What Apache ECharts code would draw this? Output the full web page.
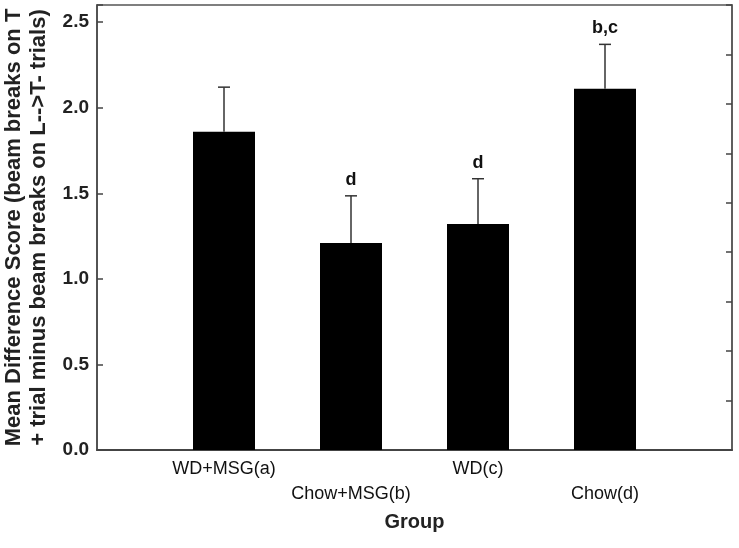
<!DOCTYPE html>
<html>
<head>
<meta charset="utf-8">
<script src="https://cdn.jsdelivr.net/npm/echarts@6/dist/echarts.min.js"></script>
<style>html,body{margin:0;padding:0;background:#fff;}#main{width:739px;height:548px;}</style>
</head>
<body>
<div id="main"></div>
<script>
var categories = ['WD+MSG(a)', 'Chow+MSG(b)', 'WD(c)', 'Chow(d)'];
var means = [1.86, 1.21, 1.32, 2.11];
var errors = [0.26, 0.275, 0.265, 0.26];
var letters = ['', 'd', 'd', 'b,c'];
var yTicks = [0, 0.5, 1.0, 1.5, 2.0, 2.5];

var FONT = '"Liberation Sans", Arial, sans-serif';
var chart = echarts.init(document.getElementById('main'));

var barData = means.map(function (m, i) { return [i + 1, m]; });
var errData = means.map(function (m, i) { return [i + 1, m, m + errors[i], i]; });

chart.setOption({
  animation: false,
  grid: { left: 97, right: 7, top: 5, bottom: 98, containLabel: false, outerBoundsMode: 'none',
          show: true, borderColor: '#555', borderWidth: 1.5, backgroundColor: 'transparent' },
  xAxis: {
    type: 'value', min: 0, max: 5, interval: 1,
    name: 'Group', nameLocation: 'middle', nameGap: 62,
    nameTextStyle: { fontFamily: FONT, fontSize: 20, fontWeight: 'bold', color: '#222' },
    axisLine: { show: true, lineStyle: { color: '#444', width: 2 } },
    axisTick: { show: false },
    splitLine: { show: false },
    axisLabel: {
      margin: 7, fontFamily: FONT, fontSize: 18, color: '#111', lineHeight: 25,
      formatter: function (v) {
        var i = Math.round(v) - 1;
        if (i < 0 || i >= categories.length || Math.abs(v - Math.round(v)) > 1e-6) return '';
        return i % 2 === 0 ? categories[i] : ' \n' + categories[i];
      }
    }
  },
  yAxis: [{
    type: 'value', min: 0, max: 2.6, interval: 0.5,
    name: 'Mean Difference Score (beam breaks on T\n+ trial minus beam breaks on L-->T- trials)',
    nameLocation: 'middle', nameGap: 46,
    nameTextStyle: { fontFamily: FONT, fontSize: 22, fontWeight: 'bold', color: '#222', lineHeight: 25 },
    axisLine: { show: true, lineStyle: { color: '#444', width: 1.5 } },
    axisTick: { show: true, inside: true, length: 6, lineStyle: { color: '#444', width: 1.5 } },
    splitLine: { show: false },
    axisLabel: {
      margin: 8, fontFamily: FONT, fontSize: 19, fontWeight: 'bold', color: '#222',
      formatter: function (v) {
        for (var k = 0; k < yTicks.length; k++) { if (Math.abs(v - yTicks[k]) < 1e-6) return yTicks[k].toFixed(1); }
        return '';
      }
    }
  }, {
    type: 'value', min: 0, max: 9, interval: 1, position: 'right',
    axisLine: { show: true, lineStyle: { color: '#555', width: 1.5 } },
    axisTick: { show: true, inside: true, length: 6, lineStyle: { color: '#444', width: 1.5 } },
    axisLabel: { show: false },
    splitLine: { show: false }
  }],
  series: [{
    type: 'bar',
    data: barData,
    barWidth: 62,
    itemStyle: { color: '#000' },
    z: 2
  }, {
    type: 'custom',
    data: errData,
    z: 3,
    renderItem: function (params, api) {
      var x = api.value(0);
      var base = api.coord([x, api.value(1)]);
      var top = api.coord([x, api.value(2)]);
      var idx = api.value(3);
      var st = { stroke: '#333', lineWidth: 1.5 };
      var children = [
        { type: 'line', shape: { x1: base[0], y1: base[1], x2: top[0], y2: top[1] }, style: st },
        { type: 'line', shape: { x1: top[0] - 6, y1: top[1], x2: top[0] + 6, y2: top[1] }, style: st }
      ];
      if (letters[idx]) {
        children.push({ type: 'text', style: { text: letters[idx], x: top[0], y: top[1] - 7, align: 'center', verticalAlign: 'bottom', fontFamily: FONT, fontSize: 18, fontWeight: 'bold', fill: '#111' } });
      }
      return { type: 'group', children: children };
    }
  }]
});
</script>
</body>
</html>
